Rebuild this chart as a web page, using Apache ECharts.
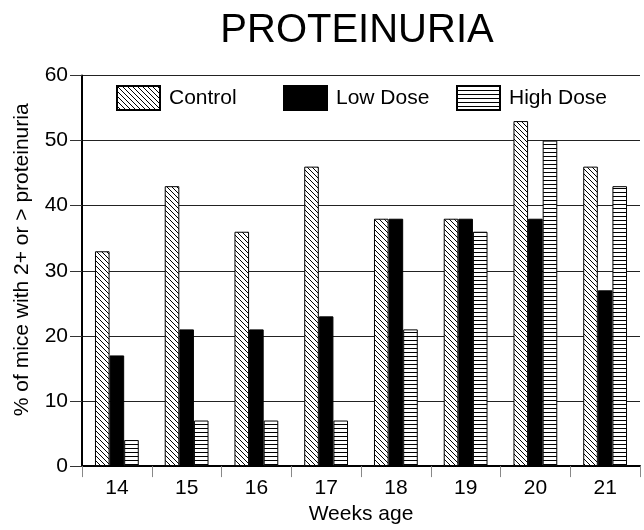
<!DOCTYPE html>
<html>
<head>
<meta charset="utf-8">
<script src="https://cdn.jsdelivr.net/npm/echarts@6/dist/echarts.min.js"></script>
<style>
  html, body { margin: 0; padding: 0; background: #fff; }
  #chart { width: 644px; height: 530px; }
</style>
</head>
<body>
<div id="chart"></div>
<script>
// Proteinuria by week of age for each treatment group
const weeks = ['14', '15', '16', '17', '18', '19', '20', '21'];
const controlPct = [33, 43, 36, 46, 38, 38, 53, 46];
const lowDosePct = [17, 21, 21, 23, 38, 38, 38, 27];
const highDosePct = [4, 7, 7, 7, 21, 36, 50, 43];
const yTicks = [0, 10, 20, 30, 40, 50, 60];

const FONT = '"Liberation Sans", Arial, Helvetica, sans-serif';

// Back-slash hatch tile
function diagonalTile(s) {
  const c = document.createElement('canvas');
  c.width = s; c.height = s;
  const g = c.getContext('2d');
  g.fillStyle = '#fff';
  g.fillRect(0, 0, s, s);
  g.strokeStyle = '#000';
  g.lineWidth = 1;
  for (let k = -1; k <= 1; k++) {
    g.beginPath();
    g.moveTo(k * s, 0);
    g.lineTo(k * s + s, s);
    g.stroke();
  }
  return c;
}

// Horizontal rule tile
function horizontalTile(h) {
  const c = document.createElement('canvas');
  c.width = 8; c.height = h;
  const g = c.getContext('2d');
  g.fillStyle = '#fff';
  g.fillRect(0, 0, 8, h);
  g.fillStyle = '#000';
  g.fillRect(0, 0, 8, 1);
  return c;
}

const controlFill = { image: diagonalTile(5), repeat: 'repeat' };
const highFill = { image: horizontalTile(4), repeat: 'repeat' };

const chart = echarts.init(document.getElementById('chart'), null, { renderer: 'canvas' });

function legendAt(name, left) {
  return {
    data: [name],
    left: left,
    top: 80,
    itemWidth: 43,
    itemHeight: 24,
    icon: 'rect',
    selectedMode: false,
    textStyle: { fontFamily: FONT, fontSize: 21, color: '#000', padding: [0, 0, 0, 4] }
  };
}

const barStyle = { borderColor: '#000', borderWidth: 1 };

chart.setOption({
  animation: false,
  backgroundColor: '#fff',
  title: {
    text: 'PROTEINURIA',
    left: 352,
    textAlign: 'center',
    top: 6,
    textStyle: { fontFamily: FONT, fontSize: 40, fontWeight: 'normal', color: '#000' }
  },
  legend: [
    legendAt('Control', 111),
    legendAt('Low Dose', 278),
    legendAt('High Dose', 451)
  ],
  grid: { left: 82, right: 4, top: 75.5, bottom: 63 },
  xAxis: {
    type: 'category',
    data: weeks,
    name: 'Weeks age',
    nameLocation: 'middle',
    nameGap: 31,
    nameTextStyle: { fontFamily: FONT, fontSize: 21, color: '#000' },
    axisLine: { lineStyle: { color: '#000', width: 2 } },
    axisTick: { show: true, length: 11, lineStyle: { color: '#888', width: 1 } },
    axisLabel: { margin: 12, fontFamily: FONT, fontSize: 21, color: '#000' },
    splitLine: { show: false }
  },
  yAxis: {
    type: 'value',
    min: yTicks[0],
    max: yTicks[yTicks.length - 1],
    interval: 10,
    name: '% of mice with 2+ or > proteinuria',
    nameLocation: 'middle',
    nameGap: 49,
    nameTextStyle: { fontFamily: FONT, fontSize: 21, color: '#000', padding: [0, 0, 0, 22] },
    axisLine: { show: true, lineStyle: { color: '#000', width: 2 } },
    axisTick: { show: true, length: 12, lineStyle: { color: '#333', width: 1 } },
    axisLabel: { margin: 14, fontFamily: FONT, fontSize: 21, color: '#000' },
    splitLine: { show: true, lineStyle: { color: '#222', width: 1 } }
  },
  series: [
    {
      name: 'Control', type: 'bar', data: controlPct,
      barWidth: 14.6, barGap: '0%',
      itemStyle: Object.assign({ color: controlFill }, barStyle)
    },
    {
      name: 'Low Dose', type: 'bar', data: lowDosePct,
      barWidth: 14.6, barGap: '0%',
      itemStyle: Object.assign({ color: '#000' }, barStyle)
    },
    {
      name: 'High Dose', type: 'bar', data: highDosePct,
      barWidth: 14.6, barGap: '0%',
      itemStyle: Object.assign({ color: highFill }, barStyle)
    }
  ]
});
</script>
</body>
</html>
